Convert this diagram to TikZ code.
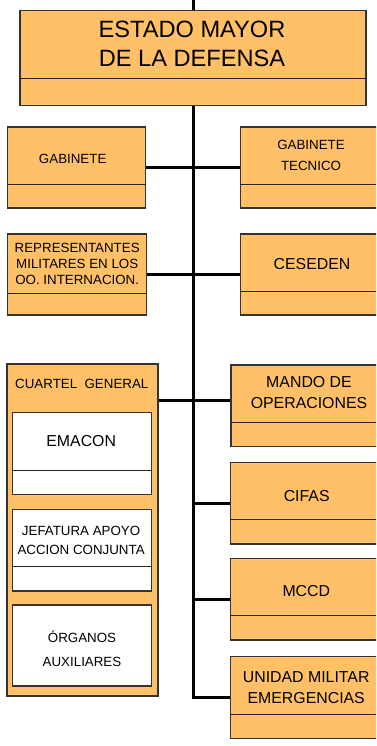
\documentclass[tikz,border=0pt]{standalone}
\usepackage{fontspec}
\setmainfont{Liberation Sans}
\usetikzlibrary{fit}
\definecolor{unitorange}{RGB}{255,192,104}

\begin{document}
\begin{tikzpicture}[x=0.75pt, y=-0.75pt,
    unit/.style={draw=black!80, line width=0.8pt, fill=unitorange, inner sep=0pt},
    subunit/.style={unit, fill=white},
    divider/.style={black!85, line width=0.7pt},
    link/.style={black, line width=2.25pt},
    bigtext/.style={font={\fontsize{17.7}{21.75}\selectfont}, align=center},
    midtext/.style={font={\fontsize{11.9}{15.75}\selectfont}, align=center},
    smalltext/.style={font={\fontsize{10}{#1}\selectfont}, align=center},
    smalltext/.default=12pt]

    \useasboundingbox (0,0) rectangle (376,746);
    \clip (0,0) rectangle (376,746);

    \coordinate (spine) at (193.5,0);
    \coordinate (cg-link) at (0,400);

    \node[unit, fit={(20,10.7) (366,105.7)}] (emad) {};
    \node[unit, fit={(7.3,127) (145.7,208)}] (gab) {};
    \node[unit, fit={(240.7,127) (381,208)}] (gabtec) {};
    \node[unit, fit={(7.7,234) (146.7,315)}] (rep) {};
    \node[unit, fit={(240.7,234) (381,315)}] (ceseden) {};
    \node[unit, line width=1.3pt, fit={(6.7,364.3) (158,696)}] (cg) {};
    \node[subunit, fit={(12.3,412.7) (151.3,494.3)}] (emacon) {};
    \node[subunit, fit={(12.3,509.3) (151.3,591)}] (jaac) {};
    \node[subunit, fit={(12.3,605) (151.3,686)}] (organos) {};
    \node[unit, fit={(231,365) (381,446.7)}] (mops) {};
    \node[unit, fit={(230.3,462.3) (381,544)}] (cifas) {};
    \node[unit, fit={(230.3,558.3) (381,640)}] (mccd) {};
    \node[unit, fit={(230.3,656.7) (381,738.3)}] (ume) {};

    \foreach \n/\y in {emad/78, gab/184, gabtec/184, rep/293.3, ceseden/291,
                       emacon/470.7, jaac/566.3, mops/422, cifas/519.3,
                       mccd/615.3, ume/714.3} {
      \draw[divider] (\n.west |- 0,\y) -- (\n.east |- 0,\y);
    }

    \node[bigtext] (emad-t) at (192,43.5) {ESTADO MAYOR\\DE LA DEFENSA};
    \node[smalltext] (gab-t) at (72.7,159.3) {GABINETE};
    \node[smalltext=15.75pt] (gabtec-t) at (311,155.8) {GABINETE\\TECNICO};
    \node[smalltext=11.9pt] (rep-t) at (77.2,264.2) {REPRESENTANTES\\MILITARES EN LOS\\OO. INTERNACION.};
    \node[midtext] (ceseden-t) at (312,264.3) {CESEDEN};
    \node[smalltext] (cg-t) at (81.8,384) {CUARTEL\ \ GENERAL};
    \node[midtext] (emacon-t) at (81.2,441) {EMACON};
    \node[smalltext=14.25pt] (jaac-t) at (81.1,540.5) {JEFATURA APOYO\\ACCION CONJUNTA};
    \node[smalltext=17.5pt] (organos-t) at (82,648.8) {ÓRGANOS\\AUXILIARES};
    \node[midtext] (mops-t) at (309,392.2) {MANDO DE\\OPERACIONES};
    \node[midtext] (cifas-t) at (306.7,495.7) {CIFAS};
    \node[midtext] (mccd-t) at (306.3,591.3) {MCCD};
    \node[midtext] (ume-t) at (306.2,687.2) {UNIDAD MILITAR\\EMERGENCIAS};

    % spine and branches
    \draw[link] (spine) -- (spine |- emad.north);
    \draw[link] (spine |- emad.south) -- (spine |- ume.west) -- (ume.west);
    \draw[link] (gab.east) -- (gabtec.west);
    \draw[link] (rep.east) -- (ceseden.west);
    \draw[link] (cg.east |- cg-link) -- (mops.west |- cg-link);
    \foreach \n in {cifas, mccd} {
      \draw[link] (spine |- \n.west) -- (\n.west);
    }
\end{tikzpicture}
\end{document}
